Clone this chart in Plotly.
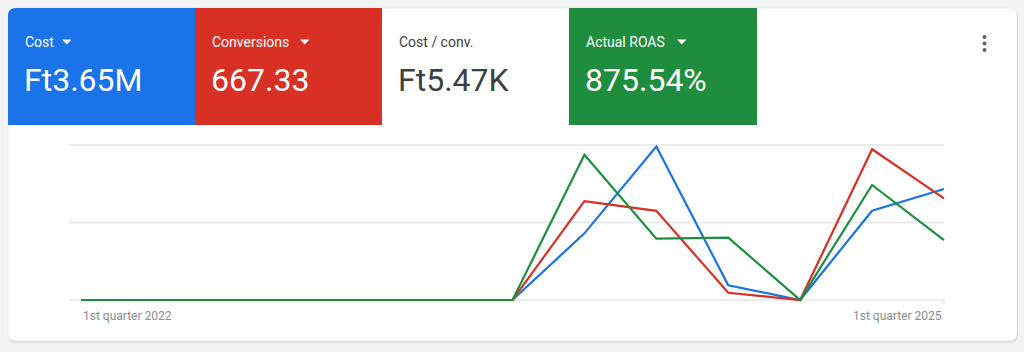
import plotly.graph_objects as go

# ---------------- data ----------------
QUARTERS = ["Q1 2022", "Q2 2022", "Q3 2022", "Q4 2022", "Q1 2023", "Q2 2023", "Q3 2023",
            "Q4 2023", "Q1 2024", "Q2 2024", "Q3 2024", "Q4 2024", "Q1 2025"]
COST = [0, 0, 0, 0, 0, 0, 0, 559000, 1287000, 123500, 0, 749000, 931000]          # Ft
CONVERSIONS = [0, 0, 0, 0, 0, 0, 0, 147.4, 132.9, 10.8, 0, 224.7, 151.53]
ROAS = [0, 0, 0, 0, 0, 0, 0, 1405, 594, 603, 0, 1113, 580]                         # %
TICK_LABELS = ["1st quarter 2022", "1st quarter 2025"]
TICK_INDEX = [0, 12]

METRIC_LABELS = ["Cost", "Conversions", "Cost / conv.", "Actual ROAS"]
METRIC_VALUES = ["Ft3.65M", "667.33", "Ft5.47K", "875.54%"]

# axis tops (top gridline) per series
COST_TOP = 1300000
CONV_TOP = 231
ROAS_TOP = 1500

# ---------------- styling ----------------
W, H = 1024, 352
BLUE = "#1a73e8"
RED = "#d93025"
GREEN = "#1e8e3e"
BG = "#f1f3f4"
GRID = "#e4e6e9"
FONT = "Roboto"

# plot geometry (pixels)
X_FIRST, X_LAST = 81, 944      # pixel of first / last quarter
GRID_LEFT = 69
Y_BASE, Y_TOP = 300, 145       # pixel of zero / top gridline
PAD = 5                        # extra room so lines are not clipped


def px(x):
    return x / W


def py(y):
    return 1 - y / H


def rounded_rect(x0, y0, x1, y1, r_tl=0, r_tr=0, r_br=0, r_bl=0):
    p = []
    p.append(f"M {px(x0)},{py(y0) - r_tl / H}")
    p.append(f"Q {px(x0)},{py(y0)} {px(x0) + r_tl / W},{py(y0)}")
    p.append(f"L {px(x1) - r_tr / W},{py(y0)}")
    p.append(f"Q {px(x1)},{py(y0)} {px(x1)},{py(y0) - r_tr / H}")
    p.append(f"L {px(x1)},{py(y1) + r_br / H}")
    p.append(f"Q {px(x1)},{py(y1)} {px(x1) - r_br / W},{py(y1)}")
    p.append(f"L {px(x0) + r_bl / W},{py(y1)}")
    p.append(f"Q {px(x0)},{py(y1)} {px(x0)},{py(y1) + r_bl / H}")
    p.append("Z")
    return " ".join(p)


n = len(QUARTERS)
ppu = (X_LAST - X_FIRST) / (n - 1)
x_lo = -(X_FIRST - GRID_LEFT) / ppu
x_hi = (n - 1) + PAD / ppu
ph = Y_BASE - Y_TOP


def yr(top):
    return [-top * PAD / ph, top * (1 + PAD / ph)]


shapes = []
# card shadow + card
shapes.append(dict(type="path", xref="paper", yref="paper", layer="below",
                   path=rounded_rect(8, 9.5, 1018, 342.5, 8, 8, 8, 8),
                   fillcolor="#d4d6d9", line=dict(width=0)))
shapes.append(dict(type="path", xref="paper", yref="paper", layer="below",
                   path=rounded_rect(8, 8, 1017, 341, 8, 8, 8, 8),
                   fillcolor="white", line=dict(width=0.6, color="#e2e4e7")))
# metric tiles
tile_x = [(8, 195), (195, 382), (382, 569), (569, 757)]
tile_fill = [BLUE, RED, None, GREEN]
for i, ((a, b), f) in enumerate(zip(tile_x, tile_fill)):
    if f is None:
        continue
    shapes.append(dict(type="path", xref="paper", yref="paper", layer="below",
                       path=rounded_rect(a, 8, b, 125, 8 if i == 0 else 0),
                       fillcolor=f, line=dict(width=0)))
# dropdown triangles
for tx in [62, 300, 677]:
    shapes.append(dict(type="path", xref="paper", yref="paper",
                       path=f"M {px(tx)},{py(39.5)} L {px(tx + 9.5)},{py(39.5)} L {px(tx + 4.75)},{py(44.5)} Z",
                       fillcolor="white", line=dict(width=0)))
# kebab menu
for cy in [37, 43.5, 50]:
    shapes.append(dict(type="circle", xref="paper", yref="paper",
                       x0=px(982.5), x1=px(986.5), y0=py(cy + 2), y1=py(cy - 2),
                       fillcolor="#5f6368", line=dict(width=0)))
# horizontal gridlines (0, half, top) on the cost axis
for gv in [0, COST_TOP / 2, COST_TOP]:
    shapes.append(dict(type="line", xref="x", yref="y", layer="below",
                       x0=x_lo, x1=n - 1, y0=gv, y1=gv, line=dict(color=GRID, width=1.3)))
# x ticks
for idx in TICK_INDEX:
    shapes.append(dict(type="line", xref="x", yref="paper", layer="below",
                       x0=idx, x1=idx, y0=py(Y_BASE), y1=py(Y_BASE + 4),
                       line=dict(color="#dadce0", width=1)))

annotations = []
label_colors = ["white", "white", "#3c4043", "white"]
for (a, b), lab, val, c in zip(tile_x, METRIC_LABELS, METRIC_VALUES, label_colors):
    annotations.append(dict(xref="paper", yref="paper", x=px(a + 14.5), y=py(41.5),
                            xanchor="left", yanchor="middle", showarrow=False,
                            text=lab, font=dict(family=FONT, size=14, color=c)))
    annotations.append(dict(xref="paper", yref="paper", x=px(a + 13.5), y=py(80),
                            xanchor="left", yanchor="middle", showarrow=False,
                            text=val, font=dict(family=FONT, size=32, color=c)))

# x-axis labels (first left-aligned, last right-aligned)
for lab, idx, anchor in zip(TICK_LABELS, TICK_INDEX, ["left", "right"]):
    annotations.append(dict(xref="x", yref="paper", x=idx, y=py(316),
                            xanchor=anchor, yanchor="middle", showarrow=False,
                            text=lab, font=dict(family=FONT, size=12, color="#8a8e93")))

x_idx = list(range(n))

fig = go.Figure()
fig.add_trace(go.Scatter(x=x_idx, y=COST, mode="lines", name="Cost", yaxis="y",
                         line=dict(color=BLUE, width=2.2), customdata=QUARTERS,
                         hovertemplate="%{customdata}: Ft%{y:,.0f}<extra></extra>"))
fig.add_trace(go.Scatter(x=x_idx, y=CONVERSIONS, mode="lines", name="Conversions", yaxis="y2",
                         line=dict(color=RED, width=2.2), customdata=QUARTERS,
                         hovertemplate="%{customdata}: %{y:.2f}<extra></extra>"))
fig.add_trace(go.Scatter(x=x_idx, y=ROAS, mode="lines", name="Actual ROAS", yaxis="y3",
                         line=dict(color=GREEN, width=2.2), customdata=QUARTERS,
                         hovertemplate="%{customdata}: %{y:.0f}%<extra></extra>"))

ydom = [py(Y_BASE + PAD), py(Y_TOP - PAD)]
fig.update_layout(
    width=W, height=H,
    margin=dict(l=0, r=0, t=0, b=0),
    paper_bgcolor=BG, plot_bgcolor="rgba(0,0,0,0)",
    showlegend=False,
    shapes=shapes, annotations=annotations,
    xaxis=dict(domain=[px(GRID_LEFT), px(X_LAST + PAD)], range=[x_lo, x_hi], showgrid=False,
               zeroline=False, showticklabels=False, ticks="", showline=False, fixedrange=True),
    yaxis=dict(domain=ydom, range=yr(COST_TOP), showgrid=False, zeroline=False,
               showticklabels=False, fixedrange=True),
    yaxis2=dict(domain=ydom, range=yr(CONV_TOP), overlaying="y", showgrid=False,
                zeroline=False, showticklabels=False, fixedrange=True),
    yaxis3=dict(domain=ydom, range=yr(ROAS_TOP), overlaying="y", showgrid=False,
                zeroline=False, showticklabels=False, fixedrange=True),
)

fig.write_html("out.html", config={"displayModeBar": False})
